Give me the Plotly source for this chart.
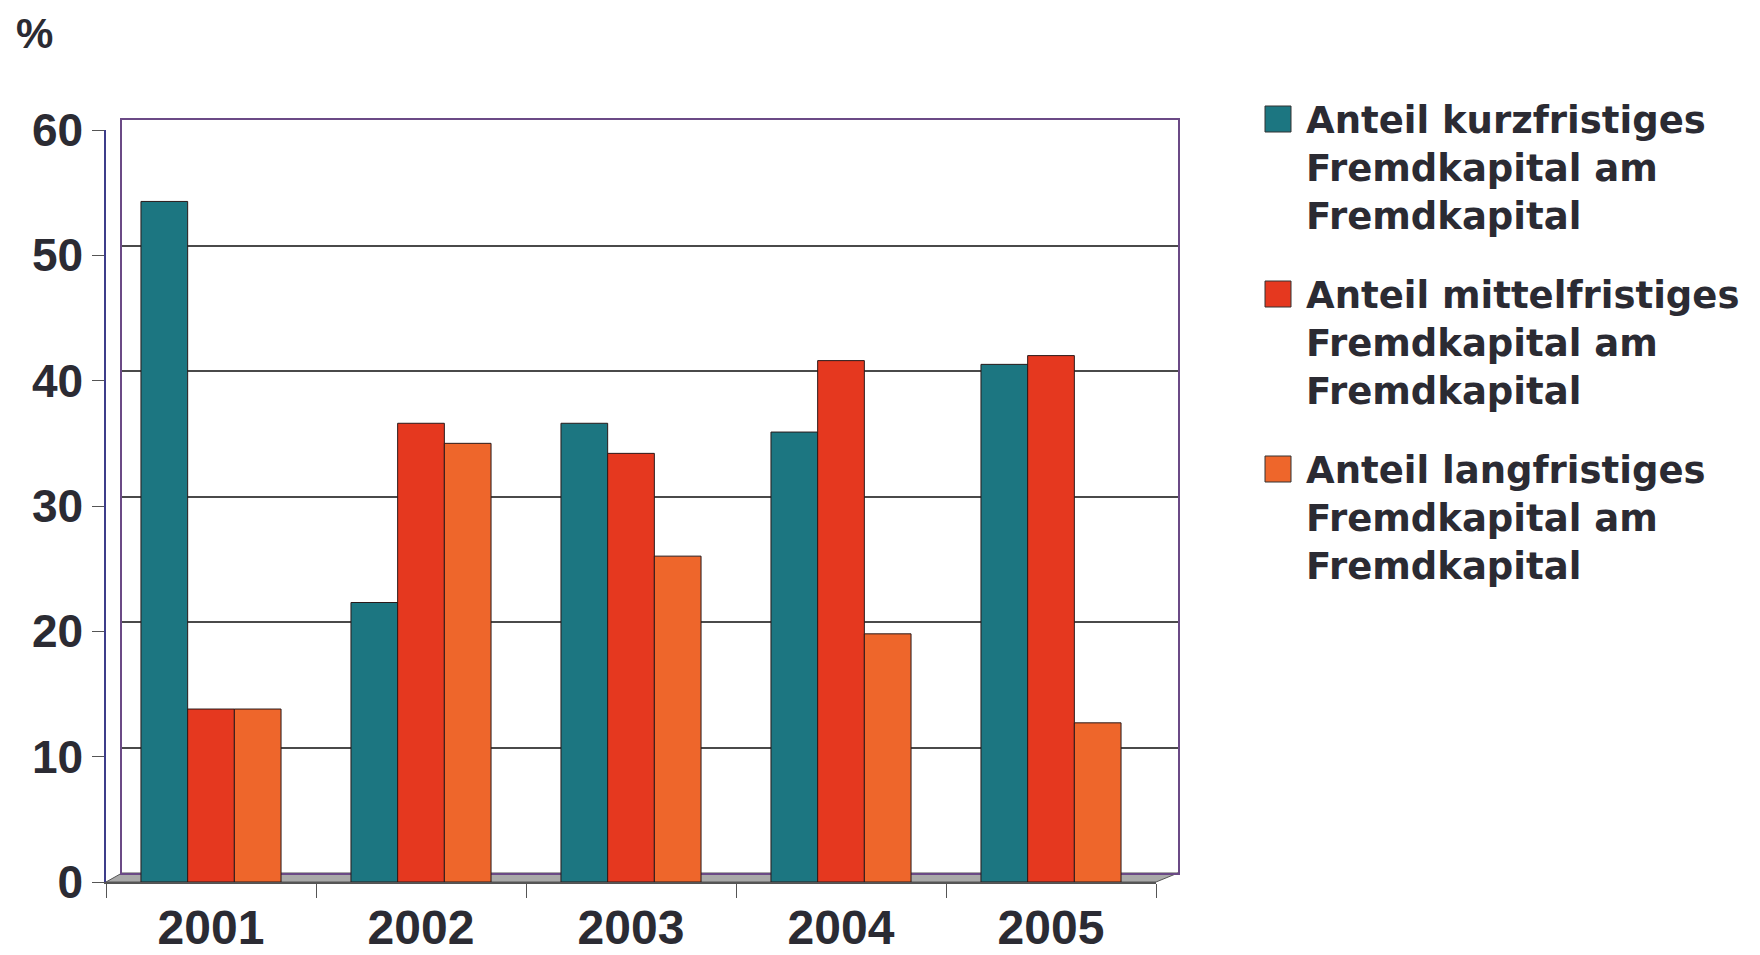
import plotly.graph_objects as go

years = ["2001", "2002", "2003", "2004", "2005"]
kurz = [54.3, 22.3, 36.6, 35.9, 41.3]
mittel = [13.8, 36.6, 34.2, 41.6, 42.0]
lang = [13.8, 35.0, 26.0, 19.8, 12.7]
series_names = [
    "Anteil kurzfristiges<br>Fremdkapital am<br>Fremdkapital",
    "Anteil mittelfristiges<br>Fremdkapital am<br>Fremdkapital",
    "Anteil langfristiges<br>Fremdkapital am<br>Fremdkapital",
]
colors = ["#1c7681", "#e5381f", "#ee662b"]
y_ticks = [0, 10, 20, 30, 40, 50, 60]

W, H = 1760, 955
OFF = 8  # page body margin
L, R, T, B = 106, 1178, 120, 882  # plot area in screenshot pixels


def px(x):
    return (x - L) / (R - L)


def py(y):
    return (B - y) / (B - T)


fig = go.Figure()

# invisible trace to keep the back-wall subplot drawn
fig.add_trace(go.Scatter(x=[0, 1], y=[0, 60], mode="markers", marker=dict(opacity=0),
                         showlegend=False, hoverinfo="skip", xaxis="x", yaxis="y"))

for vals, name, col in zip([kurz, mittel, lang], series_names, colors):
    fig.add_trace(go.Bar(x=years, y=vals, name=name,
                         marker=dict(color=col, line=dict(color="#2a1a1a", width=1)),
                         xaxis="x2", yaxis="y2", showlegend=False))

fig.update_layout(
    width=W, height=H,
    margin=dict(l=L - OFF, r=W - R + OFF, t=T - OFF, b=H - B + OFF),
    paper_bgcolor="white", plot_bgcolor="rgba(0,0,0,0)",
    barmode="group", bargap=0.333, bargroupgap=0,
    font=dict(family="Liberation Sans, Arial", color="#2b2b33"),
    # back wall
    xaxis=dict(domain=[px(122), 1], range=[0, 1], showticklabels=False, ticks="", showgrid=False,
               zeroline=False, showline=True, linecolor="#6b4a86", linewidth=1.5, mirror=True,
               automargin=False),
    yaxis=dict(domain=[py(873), 1], range=[0, 60], dtick=10, showticklabels=False, ticks="",
               showgrid=True, gridcolor="#4a4a4a", gridwidth=1.5, zeroline=False,
               showline=True, linecolor="#6b4a86", linewidth=1.5, mirror=True, automargin=False),
    # front axes carrying the bars
    xaxis2=dict(domain=[0, px(1156)], anchor="y2", showgrid=False, zeroline=False,
                showline=True, linecolor="#555555", linewidth=1.5,
                ticks="outside", tickson="boundaries", ticklen=14, tickcolor="#555555",
                tickfont=dict(family="Liberation Sans, Arial", size=48, color="#2b2b33", weight="bold"),
                ticklabelstandoff=3, automargin=False),
    yaxis2=dict(domain=[0, py(130)], anchor="x2", range=[0, 60], tickvals=y_ticks,
                showgrid=False, zeroline=False, showline=True, linecolor="#3d3d8a", linewidth=1.5,
                ticks="outside", ticklen=12, tickcolor="#555555", automargin=False,
                tickfont=dict(family="Liberation Sans, Arial", size=46, color="#2b2b33", weight="bold")),
)

# floor strip
fig.add_shape(type="path", xref="paper", yref="paper", layer="below",
              path=f"M {px(106)} {py(882)} L {px(1156)} {py(882)} L {px(1178)} {py(873)} L {px(122)} {py(873)} Z",
              fillcolor="#a9a9a9", line=dict(color="#555555", width=1))

# "%" unit label
fig.add_annotation(x=px(34), y=py(34), xref="paper", yref="paper", text="%", showarrow=False,
                   xanchor="center", yanchor="middle",
                   font=dict(family="Liberation Sans, Arial", size=42, color="#2b2b33", weight="bold"))

# legend
centers = [119, 294, 469]
for name, col, c in zip(series_names, colors, centers):
    fig.add_shape(type="rect", xref="paper", yref="paper",
                  x0=px(1265), x1=px(1291), y0=py(c - 13), y1=py(c + 13),
                  fillcolor=col, line=dict(color="#333333", width=1))
    fig.add_annotation(x=px(1304), y=py(c + 49), xref="paper", yref="paper", text=name,
                       showarrow=False, xanchor="left", yanchor="middle", align="left",
                       font=dict(family="DejaVu Sans", size=37, color="#2b2b33", weight="bold"))

fig.write_html("out.html")
